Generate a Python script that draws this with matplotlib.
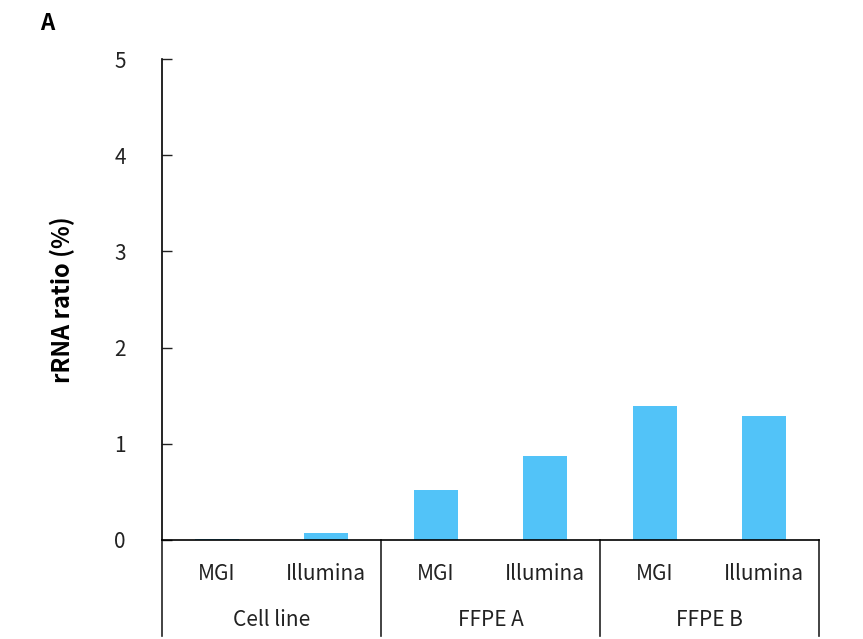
import numpy as np
import matplotlib.pyplot as plt

plt.rcParams['font.family'] = ['Noto Sans CJK SC', 'DejaVu Sans']

groups = ['Cell line', 'FFPE A', 'FFPE B']
platforms = ['MGI', 'Illumina']
values = [0.01, 0.07, 0.52, 0.87, 1.39, 1.29]

fig = plt.figure(figsize=(8.63, 6.39), dpi=100)
ax = fig.add_axes([162 / 863, 99 / 639, 657 / 863, 481 / 639])

x = np.arange(len(values)) + 0.5
ax.bar(x, values, width=0.4, color='#52C3F8')

ax.set_xlim(0, 6)
ax.set_ylim(0, 5)
ax.set_yticks(range(6))
ax.tick_params(axis='y', direction='in', length=7, width=1, labelsize=15,
               pad=26, colors='#222222')
ax.set_xticks([])
for s in ['top', 'right']:
    ax.spines[s].set_visible(False)
ax.spines['left'].set_linewidth(1.2)
ax.spines['bottom'].set_linewidth(1.2)

ax.set_ylabel('rRNA ratio (%)', fontsize=17, fontweight='bold', labelpad=28)

# category labels under the axis
trans = ax.get_xaxis_transform()
for i, v in enumerate(x):
    ax.text(v, -0.071, platforms[i % 2], transform=trans, ha='center',
            va='center', fontsize=15, color='#222222')
for g, name in enumerate(groups):
    ax.text(2 * g + 1, -0.166, name, transform=trans, ha='center',
            va='center', fontsize=15, color='#222222')
# group separators running down to the bottom edge
for sep in [0, 2, 4, 6]:
    ax.plot([sep, sep], [0, -0.2], transform=trans, color='#222222',
            lw=1.2, clip_on=False)

fig.text(47 / 863, 1 - 23 / 639, 'A', fontsize=16, fontweight='bold',
         ha='center', va='center')

fig.savefig('out.png', dpi=100)
